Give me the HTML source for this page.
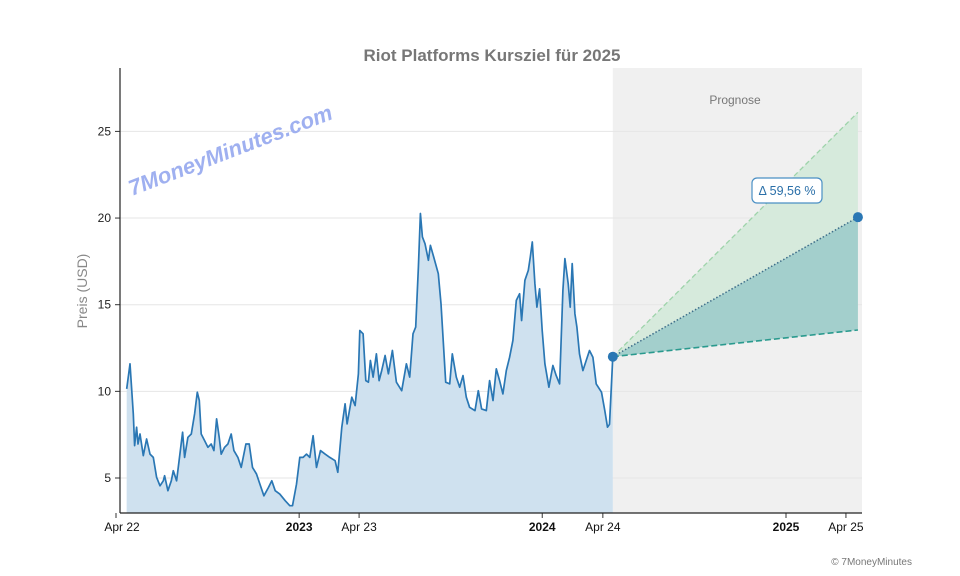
<!DOCTYPE html>
<html><head><meta charset="utf-8"><style>
body{margin:0;background:#fff;}
svg{display:block;font-family:"Liberation Sans",sans-serif;}
</style></head><body>
<svg id="chart" width="960" height="576" viewBox="0 0 960 576" xmlns="http://www.w3.org/2000/svg">
<rect id="fregion" fill="#f0f0f0"/>
<g id="grid"></g>
<text x="735" y="104" font-size="12" fill="#777" text-anchor="middle">Prognose</text>
<g id="marks"></g>
<g id="axes"></g>
<text x="492" y="61" font-size="17" font-weight="bold" fill="#777" text-anchor="middle">Riot Platforms Kursziel für 2025</text>
<text transform="translate(87,291) rotate(-90)" font-size="14" fill="#888" text-anchor="middle">Preis (USD)</text>
<text transform="translate(132,196) rotate(-21)" font-size="22" font-weight="bold" font-style="italic" fill="#9fb0f0">7MoneyMinutes.com</text>
<g>
<rect x="752" y="178" width="70" height="25" rx="5" fill="#fff" stroke="#4a8fc4" stroke-width="1.2"/>
<text x="787" y="195" font-size="12.5" fill="#2a6fa8" text-anchor="middle">Δ 59,56 %</text>
</g>
<text x="912" y="565" font-size="10" fill="#777" text-anchor="end">© 7MoneyMinutes</text>
</svg>
<script>
// days since 2022-04-01
const days=[16,21,26,28,31,33,36,41,46,51,56,61,66,71,73,78,83,86,91,96,100,103,108,113,118,122,125,128,133,138,143,147,151,155,158,163,168,173,177,183,188,195,200,205,211,216,222,229,234,239,246,254,261,265,271,276,281,286,291,296,301,307,314,321,329,333,339,344,347,354,359,364,366,371,375,379,382,386,391,395,399,404,409,415,421,429,436,441,446,450,454,457,460,464,469,472,477,484,488,491,495,501,505,511,516,521,526,531,539,544,549,556,561,566,571,576,581,586,591,596,601,606,609,614,619,622,625,629,632,636,640,644,650,656,661,666,671,674,679,682,685,689,692,696,701,706,711,716,721,729,734,738,741,746];
const prices=[10.14,11.59,8.70,6.87,7.93,6.96,7.54,6.29,7.25,6.38,6.19,5.04,4.55,4.84,5.13,4.27,4.84,5.42,4.84,6.38,7.64,6.19,7.35,7.54,8.70,9.95,9.47,7.54,7.16,6.77,6.96,6.58,8.41,7.35,6.38,6.77,6.96,7.54,6.58,6.19,5.61,6.96,6.96,5.61,5.23,4.65,3.97,4.46,4.84,4.27,4.07,3.69,3.40,3.40,4.65,6.19,6.19,6.38,6.19,7.44,5.61,6.58,6.38,6.19,6.00,5.33,7.93,9.28,8.12,9.66,9.18,11.01,13.51,13.32,10.62,10.53,11.78,10.82,12.16,10.62,11.20,12.07,11.01,12.36,10.53,10.04,11.59,10.82,13.32,13.71,17.18,20.26,18.91,18.52,17.56,18.43,17.75,16.79,15.06,13.13,10.53,10.43,12.16,10.82,10.24,10.91,9.66,9.08,8.89,10.04,8.99,8.89,10.62,9.47,11.30,10.62,9.85,11.20,11.97,12.94,15.25,15.63,14.09,16.41,16.98,17.75,18.62,16.21,14.86,15.92,13.51,11.59,10.24,11.49,10.91,10.43,15.83,17.66,16.21,14.86,17.37,14.48,13.71,12.16,11.20,11.78,12.36,11.97,10.43,9.95,8.89,7.93,8.10,12.00];
const forecastDays=[746,1114];
const forecastTarget=[12.00,20.05];
const forecastHigh=[12.00,26.10];
const forecastLow=[12.00,13.54];
const yTicks=[5,10,15,20,25];
const xTickDays=[0,275,365,640,731,1006,1096];
const xTickLabels=["Apr 22","2023","Apr 23","2024","Apr 24","2025","Apr 25"];
const xTickBold=[false,true,false,true,false,true,false];

const NS="http://www.w3.org/2000/svg";
const X=d=>116+d*0.666;
const Y=p=>478-(p-5)*17.33;
const L=120,R=862,T=68,B=513;
function mk(tag,attrs,parent){const e=document.createElementNS(NS,tag);for(const k in attrs)e.setAttribute(k,attrs[k]);parent.appendChild(e);return e;}
const grid=document.getElementById('grid'),marks=document.getElementById('marks'),axes=document.getElementById('axes');
const fr=document.getElementById('fregion');
fr.setAttribute('x',X(forecastDays[0]));fr.setAttribute('y',T);fr.setAttribute('width',R-X(forecastDays[0]));fr.setAttribute('height',B-T);
yTicks.forEach(v=>{
 const g=mk('line',{x1:L,x2:R,y1:Y(v),y2:Y(v),stroke:'#e6e6e6','stroke-width':1},grid);
 
 
 const t=mk('line',{x1:L-5,x2:L,y1:Y(v),y2:Y(v),stroke:'#333'},axes);
 
 
 const tx=mk('text',{x:L-9,y:Y(v)+4,'font-size':12,fill:'#222','text-anchor':'end'},axes);tx.textContent=v;
 
 
});
xTickDays.forEach((d,i)=>{
 const t=mk('line',{x1:X(d),x2:X(d),y1:B,y2:B+5,stroke:'#333'},axes);
 
 
 const tx=mk('text',{x:Math.max(X(d),122),y:B+18,'font-size':12,fill:'#111','text-anchor':'middle','font-weight':xTickBold[i]?'bold':'normal'},axes);tx.textContent=xTickLabels[i];
 
 
});
// price area + line
let pts=days.map((d,i)=>X(d).toFixed(1)+','+Y(prices[i]).toFixed(1));
const area=mk('polygon',{points:X(days[0])+','+B+' '+pts.join(' ')+' '+X(days[days.length-1])+','+B,fill:'#cfe1ef'},marks);


const line=mk('polyline',{points:pts.join(' '),fill:'none',stroke:'#2a77b4','stroke-width':1.7,'stroke-linejoin':'round'},marks);


// forecast
const fx0=X(forecastDays[0]),fx1=X(forecastDays[1]);
const up=mk('polygon',{points:`${fx0},${Y(forecastHigh[0])} ${fx1},${Y(forecastHigh[1])} ${fx1},${Y(forecastTarget[1])}`,fill:'#d6eadc'},marks);


const lo=mk('polygon',{points:`${fx0},${Y(forecastTarget[0])} ${fx1},${Y(forecastTarget[1])} ${fx1},${Y(forecastLow[1])}`,fill:'#a3cfcc'},marks);


const hl=mk('line',{x1:fx0,y1:Y(forecastHigh[0]),x2:fx1,y2:Y(forecastHigh[1]),stroke:'#9ed3aa','stroke-width':1.3,'stroke-dasharray':'5,3'},marks);


const ll=mk('line',{x1:fx0,y1:Y(forecastLow[0]),x2:fx1,y2:Y(forecastLow[1]),stroke:'#2a9a8e','stroke-width':1.6,'stroke-dasharray':'6,3'},marks);


const tl=mk('line',{x1:fx0,y1:Y(forecastTarget[0]),x2:fx1,y2:Y(forecastTarget[1]),stroke:'#3f6f8a','stroke-width':1.5,'stroke-dasharray':'1.5,2'},marks);


[[fx0,forecastTarget[0],'current-price-dot'],[fx1,forecastTarget[1],'target-price-dot']].forEach(a=>{
 const c=mk('circle',{cx:a[0],cy:Y(a[1]),r:5,fill:'#2a77b4'},marks);
 
 
});
const ya=mk('line',{x1:L,x2:L,y1:T,y2:B,stroke:'#222','stroke-width':1.2},axes);


const xa=mk('line',{x1:L,x2:R,y1:B,y2:B,stroke:'#222','stroke-width':1.2},axes);


</script>
</body></html>
